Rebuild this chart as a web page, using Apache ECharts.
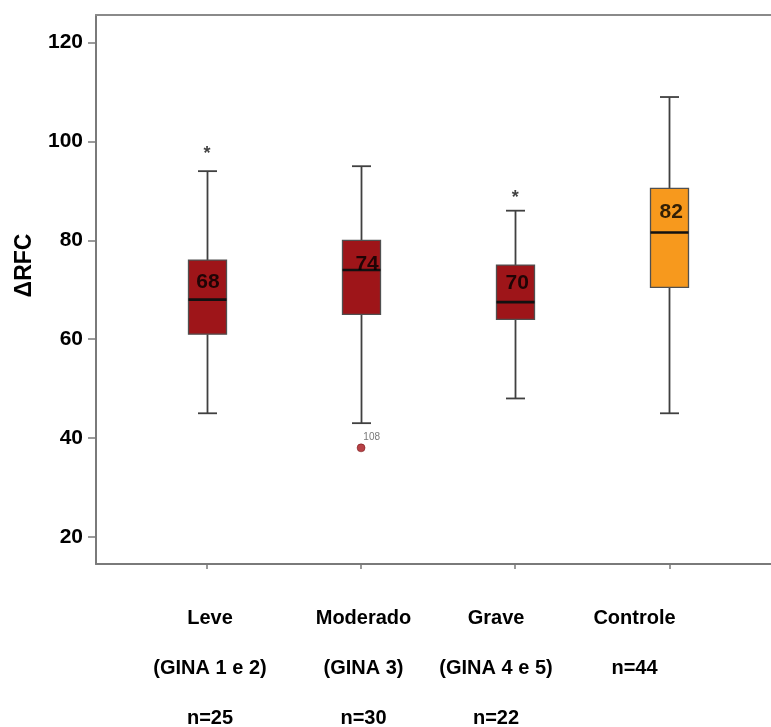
<!DOCTYPE html>
<html><head><meta charset="utf-8">
<script src="https://cdn.jsdelivr.net/npm/echarts@6/dist/echarts.min.js"></script>
<style>html,body{margin:0;padding:0;background:#fff}#c{width:771px;height:727px}</style>
</head><body><div id="c"></div>
<script>
// ---- data ----
const groupLine1 = ['Leve', 'Moderado', 'Grave', 'Controle'];
const groupLine2 = ['(GINA 1 e 2)', '(GINA 3)', '(GINA 4 e 5)', 'n=44'];
const groupLine3 = ['n=25', 'n=30', 'n=22', ''];
const groupPos = [0, 1, 2, 3];
const whiskerLow = [45, 43, 48, 45];
const q1 = [61, 65, 64, 70.5];
const median = [68, 74, 67.5, 81.6];
const q3 = [76, 80, 75, 90.5];
const whiskerHigh = [94, 95, 86, 109];
const medianLabels = ['68', '74', '70', '82'];
const extremeX = [0, 2];
const extremeY = [98.2, 89.3];
const outlierX = [1];
const outlierY = [38];
const outlierIds = ['108'];
const yTicks = [20, 40, 60, 80, 100, 120];

// ---- styles ----
const boxColors = ['#9e1519', '#9e1519', '#9e1519', '#f7991d'];
const medianLabelOffsets = [[1, -17], [6, -6], [2, -19], [2, -20]];
const groupLabelPadding = [[0, 10, 0, 0], [0, 0, 0, 16], [0, 0, 0, 0], [0, 4, 0, 0]];
const FONT = "'Liberation Sans', Arial, Helvetica, sans-serif";
const AXIS_COLOR = '#7a7a7a';

const boxData = groupPos.map((x, i) => [x, whiskerLow[i], q1[i], median[i], q3[i], whiskerHigh[i]]);

const groupRich = {};
groupLabelPadding.forEach((p, i) => {
  groupRich['g' + i] = { fontFamily: FONT, fontSize: 20, fontWeight: 'bold', color: '#000', lineHeight: 50, padding: p };
});

function renderBox(params, api) {
  const x = api.value(0);
  const pLow = api.coord([x, api.value(1)]);
  const pQ1 = api.coord([x, api.value(2)]);
  const pMed = api.coord([x, api.value(3)]);
  const pQ3 = api.coord([x, api.value(4)]);
  const pHigh = api.coord([x, api.value(5)]);
  const bw = 38, cw = 19;
  const cx = Math.round(pMed[0]) + 0.5;
  const ls = { stroke: '#404040', lineWidth: 1.8 };
  return {
    type: 'group',
    children: [
      { type: 'line', shape: { x1: cx, y1: pHigh[1], x2: cx, y2: pQ3[1] }, style: ls },
      { type: 'line', shape: { x1: cx, y1: pQ1[1], x2: cx, y2: pLow[1] }, style: ls },
      { type: 'line', shape: { x1: cx - cw / 2, y1: pHigh[1], x2: cx + cw / 2, y2: pHigh[1] }, style: ls },
      { type: 'line', shape: { x1: cx - cw / 2, y1: pLow[1], x2: cx + cw / 2, y2: pLow[1] }, style: ls },
      { type: 'rect', shape: { x: cx - bw / 2, y: pQ3[1], width: bw, height: pQ1[1] - pQ3[1] },
        style: { fill: boxColors[params.dataIndex], stroke: '#505050', lineWidth: 1.3 } },
      { type: 'line', shape: { x1: cx - bw / 2, y1: pMed[1], x2: cx + bw / 2, y2: pMed[1] },
        style: { stroke: '#111', lineWidth: 2.6 } }
    ]
  };
}

const chart = echarts.init(document.getElementById('c'), null, { renderer: 'canvas' });
chart.setOption({
  animation: false,
  backgroundColor: '#fff',
  grid: { left: 96, right: 0, top: 15, bottom: 163, containLabel: false, outerBoundsMode: 'none' },
  xAxis: [
    {
      type: 'value', position: 'bottom', min: -0.72, max: 3.66,
      axisLine: { show: true, onZero: false, lineStyle: { color: AXIS_COLOR, width: 2 } },
      axisTick: { show: true, customValues: groupPos, length: 5, lineStyle: { color: AXIS_COLOR, width: 1.5 } },
      axisLabel: { show: false },
      splitLine: { show: false }
    },
    {
      type: 'value', position: 'top', min: -0.72, max: 3.66,
      axisLine: { show: true, onZero: false, lineStyle: { color: '#8a8a8a', width: 2 } },
      axisTick: { show: false }, axisLabel: { show: false }, splitLine: { show: false }
    },
    {
      type: 'value', position: 'bottom', min: -0.847, max: 3.957,
      axisLine: { show: false, onZero: false }, axisTick: { show: false }, splitLine: { show: false },
      axisLabel: {
        show: true, customValues: groupPos, margin: 29,
        fontFamily: FONT, fontSize: 20, fontWeight: 'bold', color: '#000', lineHeight: 50,
        rich: groupRich,
        formatter: function (v) {
          const i = Math.round(v);
          return [groupLine1[i], groupLine2[i], groupLine3[i]]
            .filter(s => s)
            .map(s => '{g' + i + '|' + s + '}')
            .join('\n');
        }
      }
    }
  ],
  yAxis: {
    type: 'value', min: 14.5, max: 125.6,
    name: 'ΔRFC', nameLocation: 'middle', nameGap: 60,
    nameTextStyle: { fontFamily: FONT, fontSize: 23, fontWeight: 'bold', color: '#000', padding: [0, 0, 0, 48] },
    axisLine: { show: true, onZero: false, lineStyle: { color: AXIS_COLOR, width: 2 } },
    axisTick: { show: true, customValues: yTicks, length: 8, lineStyle: { color: AXIS_COLOR, width: 1.5 } },
    axisLabel: { show: true, customValues: yTicks, margin: 13, fontFamily: FONT, fontSize: 21, fontWeight: 'bold', color: '#000' },
    splitLine: { show: false }
  },
  series: [
    {
      type: 'custom', xAxisIndex: 0, yAxisIndex: 0,
      renderItem: renderBox,
      encode: { x: 0, y: [1, 2, 3, 4, 5] },
      data: boxData, z: 2
    },
    {
      type: 'scatter', xAxisIndex: 0, yAxisIndex: 0, symbolSize: 1, z: 5,
      itemStyle: { color: 'rgba(0,0,0,0)' },
      data: groupPos.map((x, i) => ({
        value: [x, median[i]],
        label: { offset: medianLabelOffsets[i] }
      })),
      label: {
        show: true, position: 'inside',
        formatter: p => medianLabels[p.dataIndex],
        fontFamily: FONT, fontSize: 21, fontWeight: 'bold', color: '#000'
      }
    },
    {
      type: 'scatter', xAxisIndex: 0, yAxisIndex: 0, symbolSize: 1, z: 5,
      itemStyle: { color: 'rgba(0,0,0,0)' },
      data: extremeX.map((x, i) => [x, extremeY[i]]),
      label: {
        show: true, position: 'inside', formatter: '*', offset: [0, 4],
        fontFamily: FONT, fontSize: 18, fontWeight: 'bold', color: '#111'
      }
    },
    {
      type: 'scatter', xAxisIndex: 0, yAxisIndex: 0, symbol: 'circle', symbolSize: 8, z: 5,
      itemStyle: { color: '#a51218', borderColor: '#6a0c0c', borderWidth: 0.6 },
      data: outlierX.map((x, i) => [x, outlierY[i]]),
      label: {
        show: true, position: 'right', distance: 0, offset: [-2, -11],
        formatter: p => outlierIds[p.dataIndex],
        fontFamily: FONT, fontSize: 10, color: '#555'
      }
    }
  ]
});
</script>
</body></html>
